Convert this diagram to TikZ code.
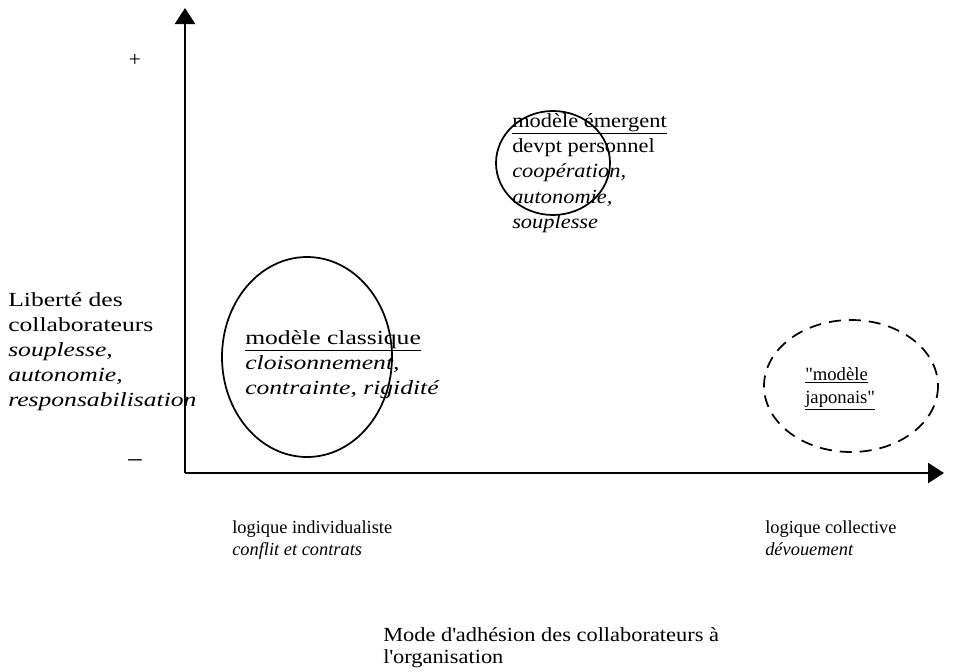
\documentclass[tikz,border=0pt]{standalone}
\usepackage{fontspec}
\setmainfont{Liberation Serif}
\newfontfamily\widefont[FakeStretch=1.28]{Liberation Serif}
\newfontfamily\midfont[FakeStretch=1.12]{Liberation Serif}
\newfontfamily\titlefont[FakeStretch=1.12]{Liberation Serif}
\usetikzlibrary{arrows.meta}

\tikzset{
  txt/.style={anchor=north west, inner sep=0pt, align=left,
    font=\fontsize{13.8}{16.5}\selectfont},
  widetxt/.style={txt, font=\widefont\fontsize{15}{18.75}\selectfont},
  axis/.style={line width=1.8pt, -{Triangle[width=15pt, length=12pt]}},
  zone/.style={line width=1.3pt},
}

\begin{document}
\begin{tikzpicture}[x=0.75pt, y=-0.75pt]
\useasboundingbox (0,0) rectangle (960,671);
% Axes
\coordinate (origin) at (185,473);
\coordinate (ytip) at (185,8);
\coordinate (xtip) at (944,473);
\draw[axis] (origin) -- (ytip);
\draw[axis] (origin) -- (xtip);
\node[font=\fontsize{16}{17}\selectfont] (plus) at (135,60) {+};
\node[font=\fontsize{20}{20}\selectfont] (minus) at (135,463) {--};
% Zones
\draw[zone] (307,357) ellipse [x radius=85, y radius=100]; % classique
\draw[zone] (553,163) ellipse [x radius=57, y radius=52]; % emergent
\draw[zone, dash pattern=on 9pt off 6pt] (851,386) ellipse [x radius=87, y radius=66]; % japonais
% Labels of the vertical axis
\node[widetxt] (liberte) at (8,292) {Liberté des\\collaborateurs\\\textit{souplesse,}\\\textit{autonomie,}\\\textit{responsabilisation}};
% Models
\node[widetxt] (classique) at (245,330) {\underline{modèle classique}\\\textit{cloisonnement,}\\\textit{contrainte, rigidité}};
\node[txt, font=\midfont\fontsize{15}{19}\selectfont] (emergent) at (512,113) {\underline{modèle émergent}\\devpt personnel\\\textit{coopération,}\\\textit{autonomie,}\\\textit{souplesse}};
\node[txt, font=\fontsize{14}{17.25}\selectfont] (japonais) at (805,367) {\underline{\textquotedbl modèle}\\\underline{japonais\textquotedbl}};
% Labels of the horizontal axis
\node[txt] (individuel) at (232,520) {logique individualiste\\\textit{conflit et contrats}};
\node[txt] (collectif) at (765,520) {logique collective\\\textit{dévouement}};
\node[txt, font=\titlefont\fontsize{15}{16.5}\selectfont] (adhesion) at (383,627) {Mode d\textquotesingle adhésion des collaborateurs à\\l\textquotesingle organisation};
\end{tikzpicture}
\end{document}
